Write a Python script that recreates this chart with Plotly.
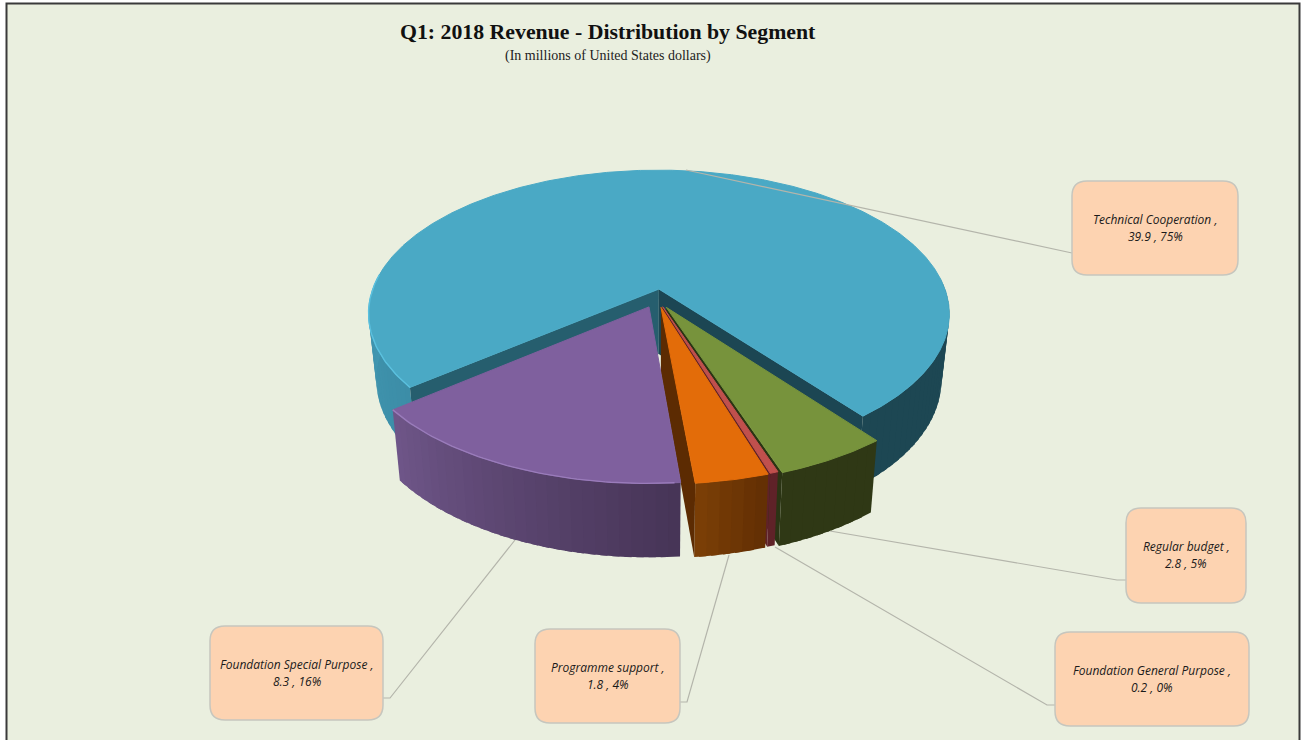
import numpy as np
import plotly.graph_objects as go

# ---- data ----
categories = ["Technical Cooperation", "Regular budget", "Foundation General Purpose",
              "Programme support", "Foundation Special Purpose"]
values = [39.9, 2.8, 0.2, 1.8, 8.3]
percents = ["75%", "5%", "0%", "4%", "16%"]
title = "Q1: 2018 Revenue - Distribution by Segment"
subtitle = "(In millions of United States dollars)"

# ---- styling ----
top_colors = ["#4AA9C5", "#77933C", "#C0504D", "#E36C09", "#7F609E"]
side_stops = [[(0, "#3C8DA7"), (0.15, "#4197B1"), (0.45, "#2F6F84"), (0.6, "#1D4753"), (1, "#1D4753")],
              [(0, "#2F3815"), (1, "#2F3815")],
              [(0, "#5F2228"), (1, "#5F2228")],
              [(0, "#622E04"), (1, "#7C4006")],
              [(0, "#463456"), (1, "#6F5689")]]
inner_colors = [None, "#2B3414", "#5F2228", "#5C2B02", None]
offset_u = [0.010, 0.035, 0.023, 0.017, -0.024]
offset_v = [0.098, -0.030, -0.026, -0.030, -0.027]
start_angle = 231.0
CX, CY, A, B, P = 656.0, 303.0, 291.0, 144.2, 0.1745
BG = "#EAEFDF"
boxes = [(1072, 181, 1238, 275), (1126, 508, 1246, 603), (1055, 632, 1249, 726),
         (535, 629, 680, 723), (210, 626, 383, 720)]
leaders = [[(686, 170), (1064, 252), (1072, 253)],
           [(830, 531), (1117, 580), (1126, 580)],
           [(775, 547), (1047, 705), (1055, 705)],
           [(729, 555), (687, 702), (680, 702)],
           [(515, 540), (390, 698), (383, 698)]]


def project(u, v):
    w = 1 + P * v
    return CX + A * u / w, CY - B * v / w


def drop(x, y):
    return CX + (x - CX) * 0.973, y + 65 + 0.046 * (y - 289)


def mix(stops, t):
    for (t0, c0), (t1, c1) in zip(stops, stops[1:]):
        if t <= t1:
            f = (t - t0) / (t1 - t0) if t1 > t0 else 0
            a = [int(c0[i:i + 2], 16) for i in (1, 3, 5)]
            b = [int(c1[i:i + 2], 16) for i in (1, 3, 5)]
            return "#%02X%02X%02X" % tuple(round(p + (q - p) * f) for p, q in zip(a, b))
    return stops[-1][1]


fig = go.Figure()


def poly(xs, ys, color, width=0.0):
    fig.add_trace(go.Scatter(x=list(xs), y=list(ys), mode="lines", fill="toself", fillcolor=color,
                             line=dict(color=color, width=width), hoverinfo="skip", showlegend=False))


def line(xs, ys, color, width):
    fig.add_trace(go.Scatter(x=list(xs), y=list(ys), mode="lines",
                             line=dict(color=color, width=width), hoverinfo="skip", showlegend=False))


total = sum(values)
spans = []
a0 = start_angle
for val in values:
    a1 = a0 + 360.0 * val / total
    spans.append((a0, a1))
    a0 = a1


def rim(i, angs):
    angs = np.radians(np.asarray(angs, dtype=float))
    return project(offset_u[i] + np.sin(angs), offset_v[i] + np.cos(angs))


def apex(i):
    return project(offset_u[i], offset_v[i])


def draw_slice(i):
    a0, a1 = spans[i]
    ax, ay = apex(i)
    abx, aby = drop(ax, ay)
    # outer wall as shaded strips; each strip overlaps the next so no seams show
    n = max(1, int((a1 - a0) / 2))
    edges = np.linspace(a0, a1, n + 1)
    step = edges[1] - edges[0]
    for j in range(n):
        # the far side of the rim has no visible wall
        if np.cos(np.radians(edges[j])) > 0.1:
            continue
        end = min(edges[j + 1] + step * 0.6, a1)
        fine = np.linspace(edges[j], end, 6)
        x, y = rim(i, fine)
        xb, yb = drop(x, y)
        poly(np.r_[x, xb[::-1]], np.r_[y, yb[::-1]], mix(side_stops[i], (j + 0.5) / n))
    # radial walls
    if i == 0:
        for ang, col in ((a0, "#265E6E"), (a1, "#1C4653")):
            x, y = rim(i, [ang])
            xb, yb = drop(x, y)
            poly([ax, x[0], xb[0], abx], [ay, y[0], yb[0], aby], col)
    elif inner_colors[i]:
        x, y = rim(i, [a1])
        xb, yb = drop(x, y)
        poly([ax, x[0], xb[0], abx], [ay, y[0], yb[0], aby], inner_colors[i])
    # top face
    angs = np.linspace(a0, a1, max(6, int(a1 - a0) * 2))
    x, y = rim(i, angs)
    poly(np.r_[ax, x, ax], np.r_[ay, y, ay], top_colors[i], 1.0)


for i in (0, 1, 2, 3, 4):
    draw_slice(i)
    if i == 0:
        x, y = rim(0, np.linspace(spans[0][0], spans[0][0] + 45, 50))
        line(x, y, "#5BC1DF", 1.4)
    if i == 4:
        x, y = rim(4, np.linspace(spans[4][0] + 1, spans[4][1], 60))
        line(x, y, "#9A7CBB", 1.4)

# leader lines run over the pie (the first one crosses the top of the big slice)
for pts in leaders:
    line([p[0] for p in pts], [p[1] for p in pts], "#B4B5AB", 1.2)

shapes = [
    dict(type="rect", xref="x", yref="y", x0=6.5, x1=1299.5, y0=3.5, y1=745, fillcolor=BG,
         line=dict(color="#3A3A3A", width=2), layer="below"),
]
R = 15
for (x0, y0, x1, y1) in boxes:
    path = (f"M{x0 + R},{y0} L{x1 - R},{y0} Q{x1},{y0} {x1},{y0 + R} L{x1},{y1 - R} Q{x1},{y1} {x1 - R},{y1} "
            f"L{x0 + R},{y1} Q{x0},{y1} {x0},{y1 - R} L{x0},{y0 + R} Q{x0},{y0} {x0 + R},{y0} Z")
    shapes.append(dict(type="path", path=path, xref="x", yref="y", fillcolor="#FDD3B1",
                       line=dict(color="#C6C6BE", width=1.5), layer="above"))

annotations = [
    dict(x=607.5, y=32, text=f"<b>{title}</b>", showarrow=False, xref="x", yref="y", xanchor="center",
         yanchor="middle", font=dict(family="Liberation Serif", size=21.8, color="#111111")),
    dict(x=607.5, y=56, text=subtitle, showarrow=False, xref="x", yref="y", xanchor="center",
         yanchor="middle", font=dict(family="Liberation Serif", size=14, color="#222222")),
]
for cat, val, pct, (x0, y0, x1, y1) in zip(categories, values, percents, boxes):
    mid_x, mid_y = (x0 + x1) / 2, (y0 + y1) / 2
    for text, dy in ((f"<i>{cat} ,</i>", -9), (f"<i>{val} , {pct}</i>", 8)):
        annotations.append(dict(x=mid_x, y=mid_y + dy, text=text, showarrow=False,
                                xref="x", yref="y", xanchor="center", yanchor="middle",
                                font=dict(family="Open Sans", size=12, color="#1A1A1A")))

fig.update_layout(
    width=1306, height=740, margin=dict(l=0, r=0, t=0, b=0), paper_bgcolor="#FFFFFF", plot_bgcolor="#FFFFFF",
    xaxis=dict(range=[0, 1306], visible=False, fixedrange=True),
    yaxis=dict(range=[740, 0], visible=False, fixedrange=True),
    shapes=shapes, annotations=annotations, showlegend=False,
)
fig.write_html("out.html", config={"displayModeBar": False},
               post_script="document.body.style.margin='0';document.body.style.overflow='hidden';")
